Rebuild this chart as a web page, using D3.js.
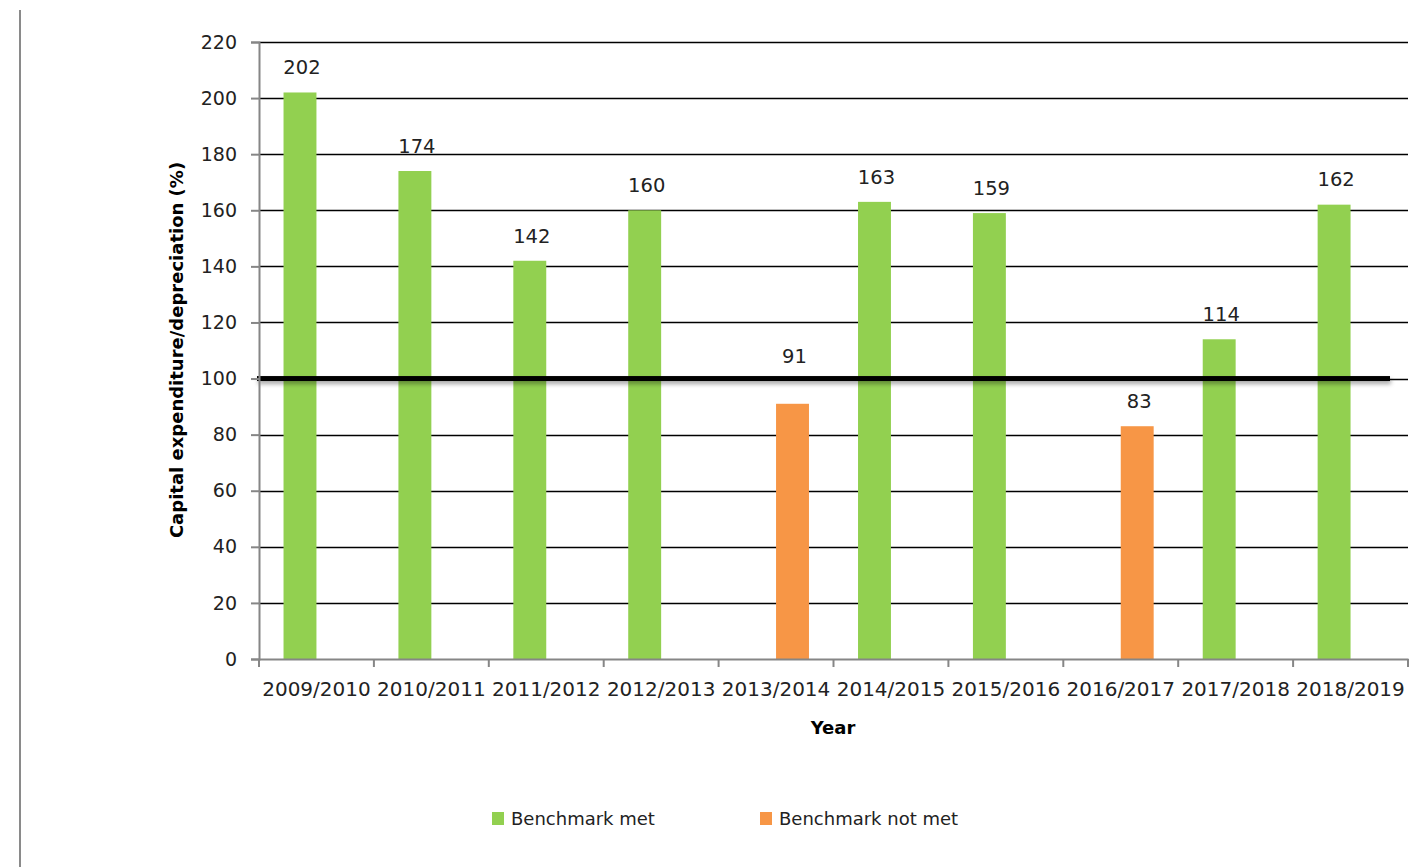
<!DOCTYPE html>
<html><head><meta charset="utf-8">
<script src="https://cdn.jsdelivr.net/npm/d3@7"></script>
<style>body{margin:0;background:#fff}svg{display:block}text{font-family:"DejaVu Sans",sans-serif}</style>
</head><body><svg id="c" width="1412" height="867"></svg>
<script>
const categories=["2009/2010","2010/2011","2011/2012","2012/2013","2013/2014","2014/2015","2015/2016","2016/2017","2017/2018","2018/2019"];
const metValues=[202,174,142,160,null,163,159,null,114,162];
const notMetValues=[null,null,null,null,91,null,null,83,null,null];
const seriesNames=["Benchmark met","Benchmark not met"];
const seriesColors=["#92D050","#F79646"];
const yTicks=[0,20,40,60,80,100,120,140,160,180,200,220];
const benchmark=100;

const svg=d3.select("#c");
const L=259,R=1408,T=42,B=659;
const x=d3.scaleBand().domain(categories).range([L,R]).paddingInner(0).paddingOuter(0);
const sub=d3.scaleBand().domain([0,1]).range([0,x.bandwidth()]).paddingInner(0).paddingOuter(0.745);
const y=d3.scaleLinear().domain([0,220]).range([B,T]);

const defs=svg.append("defs");
const f=defs.append("filter").attr("id","sh").attr("filterUnits","userSpaceOnUse")
 .attr("x",0).attr("y",0).attr("width",1412).attr("height",867);
f.append("feDropShadow").attr("dx",1).attr("dy",3).attr("stdDeviation",2).attr("flood-color","#000").attr("flood-opacity",0.35);

// left border line
svg.append("line").attr("x1",20).attr("x2",20).attr("y1",10).attr("y2",867).attr("stroke","#8a8a8a").attr("stroke-width",2);

// gridlines
svg.append("g").selectAll("line").data(yTicks.filter(d=>d>0)).join("line")
 .attr("x1",L).attr("x2",R).attr("y1",d=>Math.round(y(d))+0.5).attr("y2",d=>Math.round(y(d))+0.5)
 .attr("stroke","#000").attr("stroke-width",1.3);

// bars
const series=[metValues,notMetValues];
series.forEach((vals,si)=>{
  svg.append("g").selectAll("rect").data(categories.map((c,i)=>({c,v:vals[i]})).filter(d=>d.v!=null)).join("rect")
   .attr("x",d=>x(d.c)+sub(si)).attr("width",sub.bandwidth())
   .attr("y",d=>y(d.v)).attr("height",d=>y(0)-y(d.v)).attr("fill",seriesColors[si]);
});

// benchmark line
svg.append("rect").attr("x",L-2).attr("width",1390-(L-2)).attr("y",y(benchmark)-2.5).attr("height",5)
 .attr("fill","#000").attr("filter","url(#sh)");

// y axis
const ya=svg.append("g").attr("transform",`translate(${L},0)`).call(d3.axisLeft(y).tickValues(yTicks).tickSize(8).tickPadding(14));
ya.select(".domain").attr("stroke","#868686").attr("stroke-width",2);
ya.selectAll(".tick line").attr("stroke","#868686").attr("stroke-width",2);
ya.selectAll("text").attr("font-size",19).attr("fill","#222").attr("font-family","DejaVu Sans");

// x axis
const xa=svg.append("g").attr("transform",`translate(0,${B})`).call(d3.axisBottom(x).tickSize(0).tickPadding(23));
xa.select(".domain").attr("stroke","#868686").attr("stroke-width",2);
xa.selectAll("text").attr("font-size",20).attr("fill","#222").attr("font-family","DejaVu Sans");
xa.append("g").selectAll("line").data(d3.range(categories.length+1)).join("line")
 .attr("x1",i=>L+i*x.step()).attr("x2",i=>L+i*x.step()).attr("y1",0).attr("y2",8)
 .attr("stroke","#868686").attr("stroke-width",2);

// data labels
series.forEach((vals,si)=>{
  svg.append("g").selectAll("text").data(categories.map((c,i)=>({c,v:vals[i]})).filter(d=>d.v!=null)).join("text")
   .attr("x",d=>x(d.c)+sub(si)+sub.bandwidth()/2+2)
   .attr("y",d=>{let cy=y(d.v)-25; if(Math.abs(cy-y(benchmark))<15) cy=y(benchmark)-22; return cy;})
   .attr("dy","0.35em").attr("text-anchor","middle").attr("font-size",19.5).attr("fill","#222").text(d=>d.v);
});

// axis titles
svg.append("text").attr("transform",`translate(183,350) rotate(-90)`).attr("text-anchor","middle")
 .attr("font-size",18).attr("font-weight","bold").attr("fill","#000").text("Capital expenditure/depreciation (%)");
svg.append("text").attr("x",833).attr("y",734).attr("text-anchor","middle")
 .attr("font-size",18).attr("font-weight","bold").attr("fill","#000").text("Year");

// legend
const legX=[492,760];
seriesNames.forEach((n,i)=>{
  svg.append("rect").attr("x",legX[i]).attr("y",812).attr("width",12).attr("height",13).attr("fill",seriesColors[i]);
  svg.append("text").attr("x",legX[i]+19).attr("y",825).attr("font-size",18).attr("fill","#222").text(n);
});
</script></body></html>
